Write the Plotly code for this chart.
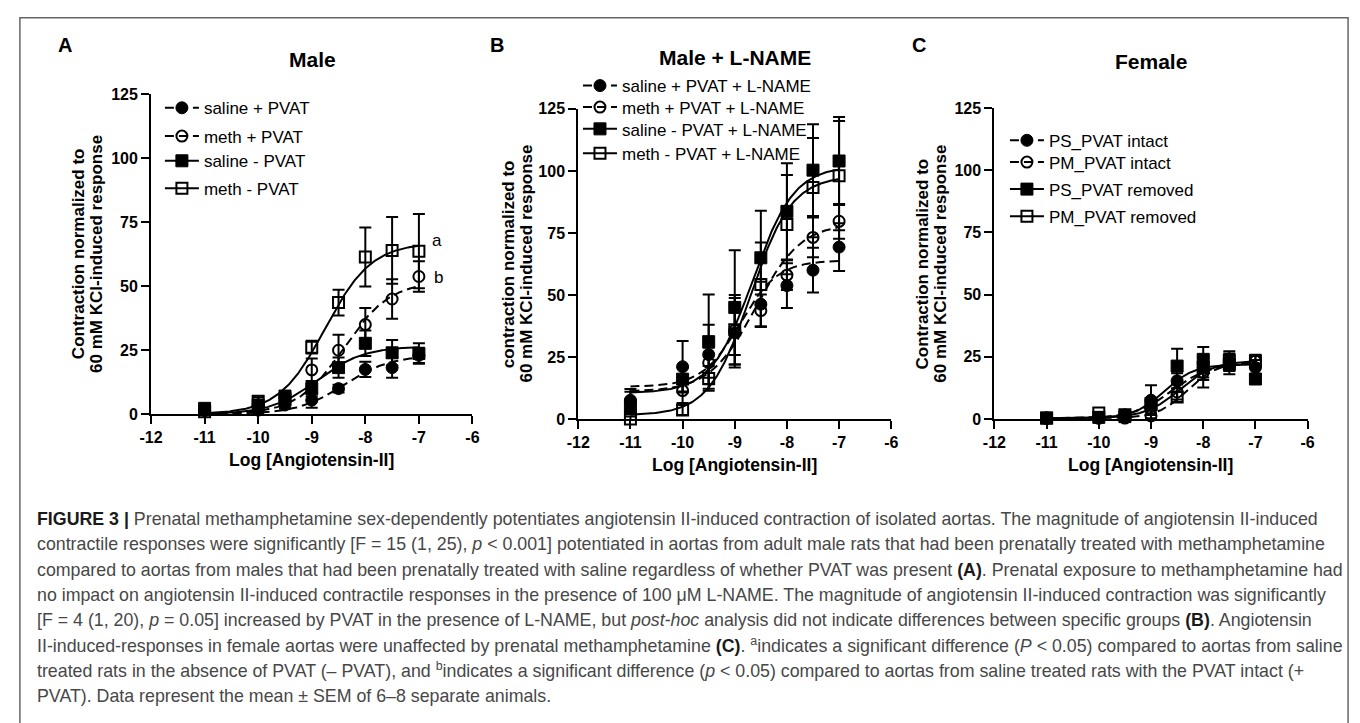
import numpy as np
import plotly.graph_objects as go

FONT = "Liberation Sans, Arial, sans-serif"
CAP_FONT = "Liberation Sans, Arial, sans-serif"
W, H = 1360, 723

# ---------------- data ----------------
x_conc = [-11, -10, -9.5, -9, -8.5, -8, -7.5, -7]
x_tick_vals = [-12, -11, -10, -9, -8, -7, -6]
x_tick_text = ['-12', '-11', '-10', '-9', '-8', '-7', '-6']
y_tick_vals = [0, 25, 50, 75, 100, 125]
y_tick_text = ['0', '25', '50', '75', '100', '125']

# Panel A - Male
A_names = ['saline + PVAT', 'meth + PVAT', 'saline - PVAT', 'meth - PVAT']
A_saline_pvat = [2.0, 1.6, 3.6, 5.5, 10.0, 17.5, 18.2, 23.0]
A_saline_pvat_sem = [0.8, 1.0, 1.5, 3.0, 1.5, 3.0, 4.0, 3.0]
A_meth_pvat = [1.5, 3.6, 6.7, 17.3, 25.0, 35.0, 45.0, 53.8]
A_meth_pvat_sem = [0.8, 1.0, 2.0, 4.5, 6.0, 6.5, 7.7, 6.0]
A_saline_nopvat = [2.3, 3.6, 7.1, 10.0, 18.2, 27.7, 24.0, 23.7]
A_saline_nopvat_sem = [1.0, 1.0, 2.0, 3.0, 4.0, 5.0, 5.0, 4.0]
A_meth_nopvat = [1.0, 5.1, 6.0, 26.2, 43.6, 61.4, 64.0, 63.7]
A_meth_nopvat_sem = [0.5, 1.5, 2.0, 2.5, 5.0, 11.5, 13.0, 14.5]
# fitted sigmoid parameters (bottom, top, logEC50, Hill slope) per series
A_fit_bottom = [0.0, 0.0, 0.0, 0.0]
A_fit_top = [23.0, 52.0, 26.5, 67.0]
A_fit_logec50 = [-8.4, -8.4, -8.9, -8.75]
A_fit_hill = [1.0, 1.0, 1.0, 1.0]
A_letters = ['a', 'b']
A_letter_x = [-6.66, -6.63]
A_letter_y = [67.9, 53.4]

# Panel B - Male + L-NAME
B_names = ['saline + PVAT + L-NAME', 'meth + PVAT + L-NAME',
           'saline - PVAT + L-NAME', 'meth - PVAT + L-NAME']
B_saline_pvat = [7.6, 21.1, 26.0, 34.8, 46.3, 53.8, 60.0, 69.3]
B_saline_pvat_sem = [4.5, 10.4, 12.0, 14.0, 9.0, 9.0, 9.0, 9.6]
B_meth_pvat = [7.0, 11.5, 22.7, 35.8, 43.7, 58.0, 73.2, 79.7]
B_meth_pvat_sem = [4.0, 5.0, 6.0, 10.0, 6.5, 6.0, 8.0, 7.0]
B_saline_nopvat = [5.0, 16.1, 31.2, 45.0, 65.0, 83.7, 100.3, 104.0]
B_saline_nopvat_sem = [3.0, 5.0, 19.0, 23.0, 19.0, 19.4, 18.5, 17.7]
B_meth_nopvat = [0.0, 3.7, 16.4, 36.0, 54.2, 78.4, 93.3, 98.1]
B_meth_nopvat_sem = [1.0, 2.0, 5.0, 14.0, 17.0, 20.0, 20.0, 22.0]
B_fit_bottom = [13.0, 11.0, 10.5, 1.5]
B_fit_top = [64.0, 79.0, 102.0, 98.0]
B_fit_logec50 = [-8.9, -8.6, -8.65, -8.7]
B_fit_hill = [1.2, 1.0, 1.1, 1.1]

# Panel C - Female
C_names = ['PS_PVAT intact', 'PM_PVAT intact', 'PS_PVAT removed', 'PM_PVAT removed']
C_ps_intact = [0.5, 0.4, 1.7, 7.6, 15.4, 20.7, 23.3, 20.7]
C_ps_intact_sem = [0.3, 0.5, 1.0, 6.0, 3.0, 4.0, 3.0, 3.0]
C_pm_intact = [0.3, 0.4, 0.4, 1.3, 10.9, 18.7, 22.6, 23.3]
C_pm_intact_sem = [0.3, 0.5, 0.5, 1.0, 3.0, 6.0, 3.0, 2.0]
C_ps_removed = [0.4, 0.7, 1.0, 5.6, 21.3, 24.0, 22.0, 16.1]
C_ps_removed_sem = [0.3, 0.5, 1.0, 2.0, 7.0, 5.0, 4.0, 2.0]
C_pm_removed = [0.4, 2.4, 1.7, 6.3, 8.9, 20.7, 23.3, 23.3]
C_pm_removed_sem = [0.3, 0.5, 0.8, 2.0, 2.0, 5.0, 4.0, 2.5]
C_fit_bottom = [0.3, 0.3, 0.3, 0.3]
C_fit_top = [22.5, 23.0, 22.0, 23.5]
C_fit_logec50 = [-8.6, -8.3, -8.75, -8.45]
C_fit_hill = [1.2, 1.5, 1.5, 1.3]

caption_lines = [
    "<b><span style='color:#1a1a1a'>FIGURE 3 |</span></b> Prenatal methamphetamine sex-dependently potentiates angiotensin II-induced contraction of isolated aortas. The magnitude of angiotensin II-induced",
    "contractile responses were significantly [F = 15 (1, 25), <i>p</i> &lt; 0.001] potentiated in aortas from adult male rats that had been prenatally treated with methamphetamine",
    "compared to aortas from males that had been prenatally treated with saline regardless of whether PVAT was present <b><span style='color:#1a1a1a'>(A)</span></b>. Prenatal exposure to methamphetamine had",
    "no impact on angiotensin II-induced contractile responses in the presence of 100 \u03bcM L-NAME. The magnitude of angiotensin II-induced contraction was significantly",
    "[F = 4 (1, 20), <i>p</i> = 0.05] increased by PVAT in the presence of L-NAME, but <i>post-hoc</i> analysis did not indicate differences between specific groups <b><span style='color:#1a1a1a'>(B)</span></b>. Angiotensin",
    "II-induced-responses in female aortas were unaffected by prenatal methamphetamine <b><span style='color:#1a1a1a'>(C)</span></b>. <sup>a</sup>indicates a significant difference (<i>P</i> &lt; 0.05) compared to aortas from saline",
    "treated rats in the absence of PVAT (\u2013 PVAT), and <sup>b</sup>indicates a significant difference (<i>p</i> &lt; 0.05) compared to aortas from saline treated rats with the PVAT intact (+",
    "PVAT). Data represent the mean \u00b1 SEM of 6\u20138 separate animals.",
]

# ---------------- styling ----------------
symbols = ['circle', 'circle-open', 'square', 'square-open']
dashes = ['9px,5px', '9px,5px', 'solid', 'solid']

def px_x(p):
    return p / W

def px_y(p):
    return 1 - p / H

panels = [
    dict(xd=[px_x(141), px_x(467)], yd=[px_y(416), px_y(88.3)],
         names=A_names,
         means=[A_saline_pvat, A_meth_pvat, A_saline_nopvat, A_meth_nopvat],
         sems=[A_saline_pvat_sem, A_meth_pvat_sem, A_saline_nopvat_sem, A_meth_nopvat_sem],
         fit=(A_fit_bottom, A_fit_top, A_fit_logec50, A_fit_hill),
         leg_x=170, leg_rows=[101.7, 130.7, 156, 184]),
    dict(xd=[px_x(574.3), px_x(891.7)], yd=[px_y(421), px_y(103.3)],
         names=B_names,
         means=[B_saline_pvat, B_meth_pvat, B_saline_nopvat, B_meth_nopvat],
         sems=[B_saline_pvat_sem, B_meth_pvat_sem, B_saline_nopvat_sem, B_meth_nopvat_sem],
         fit=(B_fit_bottom, B_fit_top, B_fit_logec50, B_fit_hill),
         leg_x=594, leg_rows=[79, 101, 123.3, 148.3]),
    dict(xd=[px_x(996.3), px_x(1314)], yd=[px_y(421), px_y(102.3)],
         names=C_names,
         means=[C_ps_intact, C_pm_intact, C_ps_removed, C_pm_removed],
         sems=[C_ps_intact_sem, C_pm_intact_sem, C_ps_removed_sem, C_pm_removed_sem],
         fit=(C_fit_bottom, C_fit_top, C_fit_logec50, C_fit_hill),
         leg_x=1027, leg_rows=[135, 157.3, 185, 212.7]),
]

fig = go.Figure()
x_curve = np.linspace(min(x_conc), max(x_conc), 241)

legend_layouts = {}
leg_count = 0
for pi, p in enumerate(panels):
    suffix = '' if pi == 0 else str(pi + 1)
    xa, ya = 'x' + suffix, 'y' + suffix
    bottom, top, ec50, hill = p['fit']
    for si in range(4):
        # fitted curve (model)
        yc = bottom[si] + (top[si] - bottom[si]) / (1 + 10 ** ((ec50[si] - x_curve) * hill[si]))
        fig.add_trace(go.Scatter(x=x_curve, y=yc, mode='lines', xaxis=xa, yaxis=ya,
                                 line=dict(color='black', width=2, dash=dashes[si]),
                                 showlegend=False, hoverinfo='skip'))
    for si in range(4):
        open_ = 'open' in symbols[si]
        fig.add_trace(go.Scatter(
            x=x_conc, y=p['means'][si], mode='markers', xaxis=xa, yaxis=ya,
            marker=dict(symbol=symbols[si], size=11 if open_ else 12, color='black',
                        line=dict(color='black', width=2 if open_ else 1)),
            error_y=dict(type='data', array=p['sems'][si], visible=True,
                         color='black', thickness=2, width=6),
            cliponaxis=False, showlegend=False, name=p['names'][si]))
    for si in range(4):
        open_ = 'open' in symbols[si]
        leg_count += 1
        leg = 'legend' if leg_count == 1 else f'legend{leg_count}'
        fig.add_trace(go.Scatter(
            x=[None], y=[None], mode='lines+markers', xaxis=xa, yaxis=ya,
            name=p['names'][si], legend=leg,
            line=dict(color='black', width=2, dash=dashes[si]),
            marker=dict(symbol=symbols[si], size=11 if open_ else 12, color='black',
                        line=dict(color='black', width=2 if open_ else 1))))
        legend_layouts[leg] = dict(
            x=px_x(p['leg_x'] - 20), y=px_y(p['leg_rows'][si] - 17.5),
            xanchor='left', yanchor='top', bgcolor='rgba(0,0,0,0)', borderwidth=0,
            font=dict(family=FONT, size=17, color='black'), itemwidth=34)

ax_common = dict(showline=True, linewidth=2, linecolor='black', ticks='outside',
                 ticklen=8, tickwidth=2, tickcolor='black', showgrid=False,
                 zeroline=False, layer='below traces', fixedrange=True,
                 tickfont=dict(family=FONT, size=16, color='black', weight='bold'))

layout = dict(width=W, height=H, margin=dict(l=0, r=0, t=0, b=0),
              paper_bgcolor='white', plot_bgcolor='white',
              font=dict(family=FONT, color='black'))
layout.update(legend_layouts)

for pi, p in enumerate(panels):
    suffix = '' if pi == 0 else str(pi + 1)
    layout['xaxis' + suffix] = dict(ax_common, domain=p['xd'], range=[-12, -6],
                                    tickvals=x_tick_vals, ticktext=x_tick_text,
                                    anchor='y' + suffix)
    layout['yaxis' + suffix] = dict(ax_common, domain=p['yd'], range=[0, 125],
                                    tickvals=y_tick_vals, ticktext=y_tick_text,
                                    anchor='x' + suffix)

fig.update_layout(**layout)

ann = []
def add_text(x, y, text, size, bold=False, angle=0, xanchor='center', color='black', family=FONT):
    ann.append(dict(x=px_x(x), y=px_y(y), xref='paper', yref='paper', text=text,
                    showarrow=False, textangle=angle, xanchor=xanchor, yanchor='middle',
                    font=dict(family=family, size=size, color=color,
                              weight='bold' if bold else 'normal')))

# panel letters
add_text(54, 38, 'A', 20, True)
add_text(492, 38, 'B', 20, True)
add_text(920, 38, 'C', 20, True)
# panel titles
add_text(305, 53, 'Male', 21, True)
add_text(733, 51, 'Male + L-NAME', 21, True)
add_text(1155, 55, 'Female', 21, True)
# y-axis titles (two lines each)
add_text(67, 252, 'Contraction normalized to', 17, True, -90)
add_text(85, 252, '60 mM KCl-induced response', 17, True, -90)
add_text(503.5, 262, 'contraction normalized to', 17, True, -90)
add_text(522, 262, '60 mM KCl-induced response', 17, True, -90)
add_text(923.5, 262, 'Contraction normalized to', 17, True, -90)
add_text(942, 262, '60 mM KCl-induced response', 17, True, -90)
# x-axis titles
add_text(304, 463, 'Log [Angiotensin-II]', 17.5, True)
add_text(733, 468, 'Log [Angiotensin-II]', 17.5, True)
add_text(1155, 468, 'Log [Angiotensin-II]', 17.5, True)
# significance letters in panel A
for t, lx, ly in zip(A_letters, A_letter_x, A_letter_y):
    ann.append(dict(x=lx, y=ly, xref='x', yref='y', text=t, showarrow=False,
                    xanchor='center', yanchor='middle',
                    font=dict(family=FONT, size=17, color='black')))
# caption
for i, line in enumerate(caption_lines):
    add_text(23, 523.5 + i * 25.8, line, 17.8, False, 0, 'left', '#474747', CAP_FONT)

fig.update_layout(annotations=ann)

# frame around the figure
fig.add_shape(type='rect', xref='paper', yref='paper', x0=px_x(8), x1=px_x(1355),
              y0=-0.05, y1=px_y(10), line=dict(color='#666666', width=1.5), layer='below')

fig.write_html('out.html', config={'displayModeBar': False},
               post_script="document.body.style.margin='0px';document.body.style.overflow='hidden';")
